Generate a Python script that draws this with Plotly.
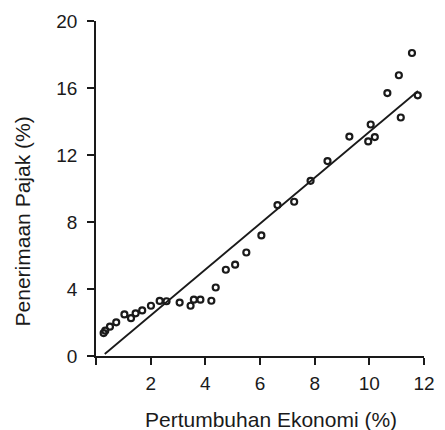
import plotly.graph_objects as go

# Data
pertumbuhan = [0.28, 0.34, 0.51, 0.74, 1.04, 1.28, 1.45, 1.69, 2.01, 2.33, 2.58,
               3.06, 3.46, 3.58, 3.82, 4.22, 4.38, 4.75, 5.09, 5.50, 6.05, 6.64,
               7.25, 7.85, 8.47, 9.27, 9.96, 10.05, 10.20, 10.66, 11.08, 11.15,
               11.56, 11.77]
penerimaan = [1.37, 1.51, 1.75, 2.01, 2.48, 2.26, 2.55, 2.72, 3.00, 3.29, 3.27,
              3.19, 3.00, 3.36, 3.36, 3.30, 4.09, 5.15, 5.45, 6.18, 7.20, 9.01,
              9.21, 10.46, 11.64, 13.10, 12.81, 13.82, 13.07, 15.70, 16.76, 14.24,
              18.09, 15.56]
trend_x = [0.32, 11.78]
trend_y = [0.12, 15.82]

x_ticks = [0, 2, 4, 6, 8, 10, 12]
x_ticktext = ["", "2", "4", "6", "8", "10", "12"]
y_ticks = [0, 4, 8, 12, 16, 20]

font_family = "Liberation Sans, Arial, sans-serif"
ink = "#1a1a1a"

fig = go.Figure()
fig.add_trace(go.Scatter(x=trend_x, y=trend_y, mode="lines",
                         line=dict(color=ink, width=1.8), showlegend=False,
                         hoverinfo="skip"))
fig.add_trace(go.Scatter(x=pertumbuhan, y=penerimaan, mode="markers",
                         marker=dict(symbol="circle-open", size=6, color=ink,
                                     line=dict(width=2.2, color=ink)),
                         showlegend=False, cliponaxis=False))

fig.update_layout(
    width=445, height=430,
    margin=dict(l=96, r=10, t=21, b=74),
    paper_bgcolor="white", plot_bgcolor="white",
    font=dict(family=font_family, color=ink, size=19),
    xaxis=dict(range=[0, 12], tickvals=x_ticks, ticktext=x_ticktext,
               showgrid=False, zeroline=False, showline=True,
               linecolor=ink, linewidth=1.6, ticks="outside", ticklen=7,
               tickwidth=1.6, tickcolor=ink, tickfont=dict(size=19),
               ticklabeloverflow="allow", ticklabelstandoff=2),
    yaxis=dict(range=[0, 20], tickvals=y_ticks,
               showgrid=False, zeroline=False, showline=True,
               linecolor=ink, linewidth=1.6, ticks="outside", ticklen=7,
               tickwidth=1.6, tickcolor=ink, tickfont=dict(size=19),
               ticklabeloverflow="allow", ticklabelstandoff=6),
    annotations=[
        dict(text="Pertumbuhan Ekonomi (%)", xref="paper", yref="paper",
             x=(277 - 96) / 339, y=-(419 - 356) / 335, xanchor="center",
             yanchor="middle", showarrow=False, font=dict(size=21)),
        dict(text="Penerimaan Pajak (%)", xref="paper", yref="paper",
             x=-(96 - 21) / 339, y=(356 - 221) / 335, xanchor="center",
             yanchor="middle", showarrow=False, textangle=-90,
             font=dict(size=21)),
    ],
)

fig.write_html("out.html", config={"displayModeBar": False},
               post_script="document.body.style.margin='0';document.body.style.overflow='hidden';")
